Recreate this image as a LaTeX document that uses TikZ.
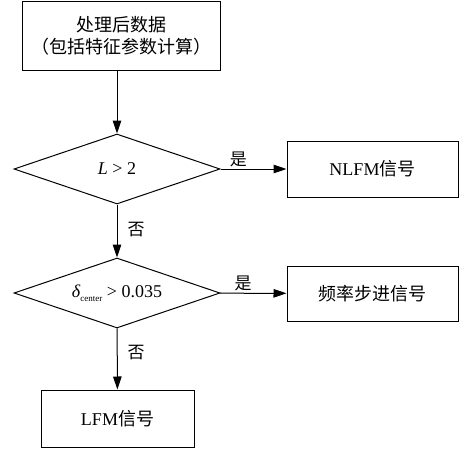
\documentclass[tikz,border=0pt]{standalone}
\usepackage{fontspec}
\setmainfont{Liberation Serif}
\newfontfamily\cjk{Noto Sans CJK SC}
\usetikzlibrary{arrows.meta,shapes.geometric}

\begin{document}
\begin{tikzpicture}[x=1pt,y=1pt,line width=1pt,
		>={Triangle[length=13pt,width=8.5pt]},
		box/.style={draw,inner sep=0pt,align=center,font=\fontsize{18}{22}\selectfont},
		cond/.style={draw,diamond,aspect=2.94,inner sep=0pt,minimum width=206pt,minimum height=70pt,font=\fontsize{18}{22}\selectfont},
		lab/.style={font=\fontsize{17}{20}\selectfont\cjk,inner sep=2pt}]
			\useasboundingbox (0,0) rectangle (466,451);

			\node[box,minimum width=198pt,minimum height=69pt] (data) at (121,415) {{\cjk 处理后数据}\\{\cjk （包括特征参数计算）}};
			\node[cond] (c1) at (117,282) {\textit{L} > 2};
			\node[box,minimum width=171pt,minimum height=56pt] (nlfm) at (372.5,282) {NLFM{\cjk 信号}};
			\draw[->] (data.south -| c1.north) to (c1.north);
			\draw[->] (c1) to node[lab,above,pos=0.27] {是} (nlfm);

			\node[cond] (c2) at (117,158) {\textit{δ}\raisebox{-0.5ex}{\fontsize{9}{10}\selectfont center} > 0.035};
			\node[box,minimum width=171pt,minimum height=55pt] (step) at (372.5,157.5) {\cjk 频率步进信号};
			\draw[->] (c1) to node[lab,right=8pt,pos=0.48] {否} (c2);
			\draw[->] (c2) to node[lab,above,pos=0.35] {是} (step);

			\node[box,minimum width=153pt,minimum height=57pt] (lfm) at (117.5,32.5) {LFM{\cjk 信号}};
			\draw[->] (c2) to node[lab,right=8pt,pos=0.4] {否} (lfm);
		\end{tikzpicture}
\end{document}
